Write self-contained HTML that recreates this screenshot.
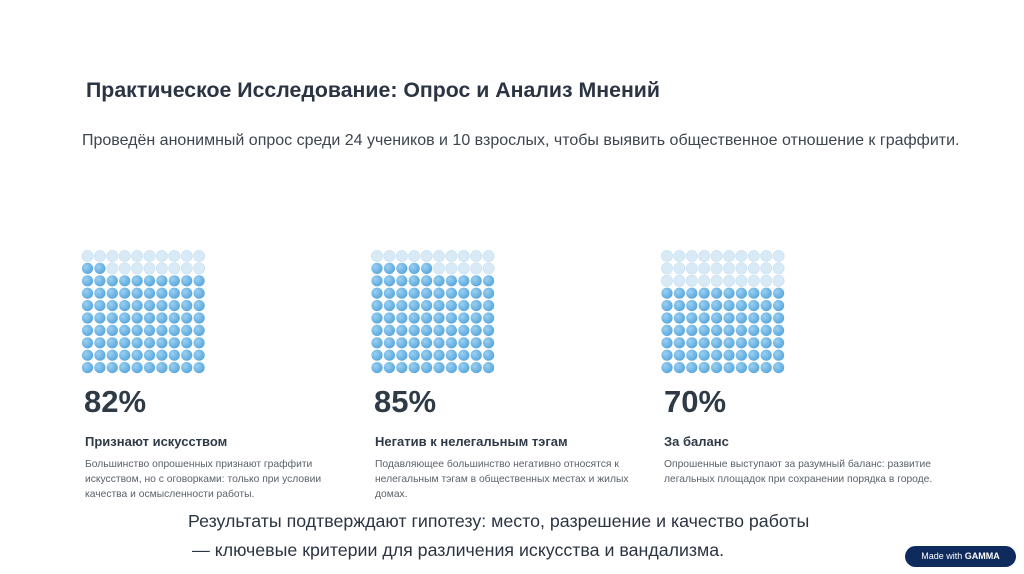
<!DOCTYPE html>
<html><head><meta charset="utf-8">
<style>
body{margin:0;width:1024px;height:574px;background:#fff;position:relative;overflow:hidden;font-family:"Liberation Sans","Noto Sans CJK SC",sans-serif;}
.a{position:absolute;white-space:nowrap;margin:0}
.title{left:86px;top:78px;font-size:21.3px;font-weight:bold;color:#2b3442}
.sub{left:82px;top:132px;font-size:16px;color:#3d4550}
.pct{font-size:31px;font-weight:bold;color:#2f3a47;top:384px}
.lab{font-size:13px;font-weight:bold;color:#2f3a47;top:434px}
.desc{font-size:10.3px;color:#5a626c;top:457px;line-height:15px;white-space:normal;width:260px}
.concl{left:188px;top:507px;font-size:17.8px;color:#2b3442;line-height:29px}
.badge{left:905px;top:546px;width:111px;height:21px;border-radius:11px;background:#0f2a5c;color:#fff;font-size:9px;line-height:21px;text-align:center}
</style></head><body>
<h1 class="a title">Практическое Исследование: Опрос и Анализ Мнений</h1>
<p class="a sub">Проведён анонимный опрос среди 24 учеников и 10 взрослых, чтобы выявить общественное отношение к граффити.</p>
<svg class="a" style="left:0;top:0" width="1024" height="574" id="waffles">
<defs><radialGradient id="g" cx="35%" cy="35%" r="70%"><stop offset="0" stop-color="#9ad0f2"/><stop offset="1" stop-color="#58a6dc"/></radialGradient></defs>
</svg>
<div class="a pct" style="left:84px">82%</div>
<div class="a pct" style="left:374px">85%</div>
<div class="a pct" style="left:664px">70%</div>
<div class="a lab" style="left:85px">Признают искусством</div>
<div class="a lab" style="left:375px">Негатив к нелегальным тэгам</div>
<div class="a lab" style="left:664px">За баланс</div>
<div class="a desc" style="left:85px;width:250px">Большинство опрошенных признают граффити искусством, но с оговорками: только при условии качества и осмысленности работы.</div>
<div class="a desc" style="left:375px;width:270px">Подавляющее большинство негативно относятся к нелегальным тэгам в общественных местах и жилых домах.</div>
<div class="a desc" style="left:664px;width:290px">Опрошенные выступают за разумный баланс: развитие легальных площадок при сохранении порядка в городе.</div>
<div class="a concl">Результаты подтверждают гипотезу: место, разрешение и качество работы<br><span style="margin-left:4px">— ключевые критерии для различения искусства и вандализма.</span></div>
<div class="a badge">Made with <b>GAMMA</b></div>
<script>
const categories=["Признают искусством","Негатив к нелегальным тэгам","За баланс"];
const values=[82,85,70];
const gridLeft=[87.5,377,667];
const svg=document.getElementById('waffles');
const NS='http://www.w3.org/2000/svg';
const step=12.4, top0=256, r=5.6;
values.forEach((v,gi)=>{
  const g=document.createElementNS(NS,'g');
  
  
  const filledRowsStart=10-Math.ceil(v/10);
  const partial=v%10;
  for(let i=0;i<100;i++){
    const row=Math.floor(i/10), col=i%10;
    let filled;
    if(row>filledRowsStart) filled=true;
    else if(row===filledRowsStart) filled = partial===0 ? true : col<partial;
    else filled=false;
    const c=document.createElementNS(NS,'circle');
    
    
    c.setAttribute('cx',gridLeft[gi]+col*step);
    c.setAttribute('cy',top0+row*step);
    c.setAttribute('r',r);
    if(filled){c.setAttribute('fill','url(#g)');}
    else{c.setAttribute('fill','#d9eaf7');c.setAttribute('stroke','#c3dcf0');c.setAttribute('stroke-width','0.6');}
    g.appendChild(c);
  }
  svg.appendChild(g);
});
</script>
</body></html>
